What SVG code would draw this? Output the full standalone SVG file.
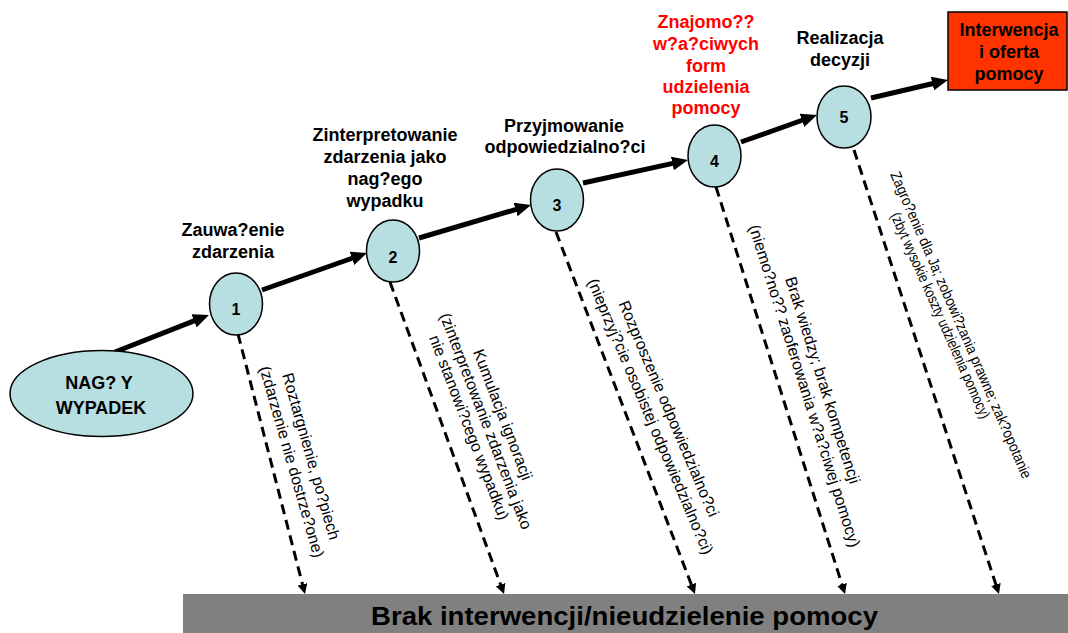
<svg xmlns="http://www.w3.org/2000/svg" width="1068" height="633" viewBox="0 0 1068 633">
<style>
text{font-family:"Liberation Sans",Arial,sans-serif;fill:#000}
.lbl{font-size:18px;font-weight:bold;text-anchor:middle}
.red{fill:#ff0000}
.num{font-size:16px;font-weight:bold;text-anchor:middle}
.rot{font-size:16px;text-anchor:middle}
.rot5{font-size:15px;text-anchor:middle}
.node{fill:#b7dee0;stroke:#000;stroke-width:1.5}
.thick{stroke:#000;stroke-width:5;fill:none;marker-end:url(#ah)}
.dash{stroke:#000;stroke-width:3;fill:none;stroke-dasharray:10 6;marker-end:url(#dh)}
</style>
<defs>
<marker id="ah" markerUnits="userSpaceOnUse" markerWidth="16" markerHeight="14" refX="4" refY="7" orient="auto"><path d="M0,0 L16,7 L0,14 z" fill="#000"/></marker>
<marker id="dh" markerUnits="userSpaceOnUse" markerWidth="10" markerHeight="10" refX="2" refY="5" orient="auto"><path d="M0,0 L10,5 L0,10 z" fill="#000"/></marker>
</defs>
<rect width="1068" height="633" fill="#fff"/>

<g id="connectors">
<path class="thick" d="M115,352 L197.8,319.4"/>
<path class="thick" d="M262,290 L355.7,257"/>
<path class="thick" d="M419,238 L519.5,208.4"/>
<path class="thick" d="M583,183 L676.3,162.6"/>
<path class="thick" d="M741,142 L805.7,119"/>
<path class="thick" d="M871,98 L936.3,82.7"/>
<path class="dash" d="M238,334 L303,586.3"/>
<path class="dash" d="M390,282 L501.3,586.5"/>
<path class="dash" d="M556,232 L692.1,586.5"/>
<path class="dash" d="M716,187 L842.6,586.4"/>
<path class="dash" d="M854,150 L996.5,586.4"/>
</g>

<g id="start">
<ellipse class="node" cx="101.5" cy="393.5" rx="91.5" ry="43"/>
<text class="lbl" x="99" y="389">NAG? Y</text>
<text class="lbl" x="101" y="414">WYPADEK</text>
</g>

<g id="n1">
<ellipse class="node" cx="236" cy="304" rx="26.5" ry="31"/>
<text class="num" x="236" y="315">1</text>
<text class="lbl" x="233" y="236">Zauwa?enie</text>
<text class="lbl" x="233" y="258">zdarzenia</text>
</g>

<g id="n2">
<ellipse class="node" cx="393" cy="251" rx="26.5" ry="31"/>
<text class="num" x="393" y="263">2</text>
<text class="lbl" x="385" y="141">Zinterpretowanie</text>
<text class="lbl" x="385" y="163">zdarzenia jako</text>
<text class="lbl" x="385" y="185">nag?ego</text>
<text class="lbl" x="385" y="207">wypadku</text>
</g>

<g id="n3">
<ellipse class="node" cx="557" cy="200" rx="26.5" ry="31"/>
<text class="num" x="557" y="211">3</text>
<text class="lbl" x="564" y="132">Przyjmowanie</text>
<text class="lbl" x="565" y="153">odpowiedzialno?ci</text>
</g>

<g id="n4">
<ellipse class="node" cx="714.5" cy="156" rx="26.5" ry="31"/>
<text class="num" x="714.5" y="167">4</text>
<text class="lbl red" x="706" y="28">Znajomo??</text>
<text class="lbl red" x="706" y="50">w?a?ciwych</text>
<text class="lbl red" x="706" y="72">form</text>
<text class="lbl red" x="706" y="93">udzielenia</text>
<text class="lbl red" x="706" y="114">pomocy</text>
</g>

<g id="n5">
<ellipse class="node" cx="844" cy="117" rx="27" ry="31"/>
<text class="num" x="844" y="123">5</text>
<text class="lbl" x="840" y="44">Realizacja</text>
<text class="lbl" x="840" y="66">decyzji</text>
</g>

<g id="result">
<rect x="948" y="12" width="119" height="78" fill="#ff3300" stroke="#000" stroke-width="1.5"/>
<text class="lbl" x="1009" y="36">Interwencja</text>
<text class="lbl" x="1009" y="58">i oferta</text>
<text class="lbl" x="1009" y="80">pomocy</text>
</g>

<g id="bar">
<rect x="183" y="594" width="885" height="39" fill="#808080"/>
<text x="371" y="625" font-size="26" font-weight="bold" textLength="507" lengthAdjust="spacingAndGlyphs">Brak interwencji/nieudzielenie pomocy</text>
</g>

<g id="reason1" transform="translate(301.5,459) rotate(74)">
<text class="rot" x="0" y="-4.5">Roztargnienie, po?piech</text>
<text class="rot" x="0" y="15.5">(zdarzenie nie dostrze?one)</text>
</g>
<g id="reason2" transform="translate(486,421) rotate(69)">
<text class="rot" x="0" y="-12.5">Kumulacja ignoracji</text>
<text class="rot" x="0" y="5.5">(zinterpretowanie zdarzenia jako</text>
<text class="rot" x="0" y="23.5">nie stanowi?cego wypadku)</text>
</g>
<g id="reason3" transform="translate(659.6,412.5) rotate(67)">
<text class="rot" x="0" y="-4.5">Rozproszenie odpowiedzialno?ci</text>
<text class="rot" x="0" y="15.5">(nieprzyj?cie osobistej odpowiedzialno?ci)</text>
</g>
<g id="reason4" transform="translate(813.7,383) rotate(72.5)">
<text class="rot" x="0" y="-4">Brak wiedzy; brak kompetencji</text>
<text class="rot" x="0" y="15">(niemo?no?? zaoferowania w?a?ciwej pomocy)</text>
</g>
<g id="reason5">
<text class="rot5" transform="translate(961,325) rotate(66.5)" x="0" y="5" textLength="333" lengthAdjust="spacingAndGlyphs">Zagro?enie dla Ja; zobowi?zania prawne; zak?opotanie</text>
<text class="rot5" transform="translate(940.4,315.5) rotate(66)" x="0" y="5" textLength="224" lengthAdjust="spacingAndGlyphs">(zbyt wysokie koszty udzielenia pomocy)</text>
</g>
</svg>
